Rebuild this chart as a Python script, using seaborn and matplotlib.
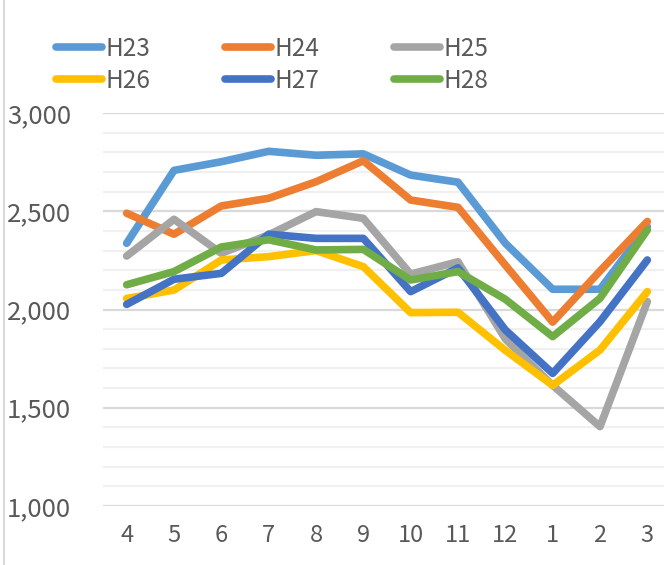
import pandas as pd
import numpy as np
import matplotlib.pyplot as plt
import seaborn as sns
from matplotlib.lines import Line2D
from matplotlib.ticker import MultipleLocator, FuncFormatter

# データ (月別)
months = ["4", "5", "6", "7", "8", "9", "10", "11", "12", "1", "2", "3"]
h23 = [2337, 2708, 2752, 2805, 2785, 2792, 2684, 2648, 2337, 2103, 2103, 2422]
h24 = [2490, 2383, 2527, 2566, 2650, 2757, 2557, 2520, 2226, 1936, 2196, 2448]
h25 = [2272, 2459, 2286, 2380, 2498, 2464, 2180, 2243, 1850, 1614, 1404, 2040]
h26 = [2056, 2099, 2252, 2269, 2300, 2218, 1984, 1986, 1792, 1614, 1794, 2091]
h27 = [2026, 2154, 2184, 2383, 2362, 2362, 2091, 2212, 1896, 1675, 1938, 2252]
h28 = [2126, 2193, 2318, 2355, 2303, 2306, 2150, 2193, 2052, 1862, 2057, 2405]
years = ["H23", "H24", "H25", "H26", "H27", "H28"]
colors = ["#5B9BD5", "#ED7D31", "#A5A5A5", "#FFC000", "#4472C4", "#70AD47"]

series = [h23, h24, h25, h26, h27, h28]
df = pd.concat([
    pd.DataFrame({"pos": np.arange(len(months)), "value": vals, "year": y})
    for y, vals in zip(years, series)
])

sns.set_style("white")
plt.rcParams["font.family"] = ["Noto Sans CJK JP", "DejaVu Sans"]

fig = plt.figure(figsize=(6.64, 5.65), dpi=100)
ax = fig.add_axes([103 / 664, 59 / 565, 568 / 664, 393 / 565])

sns.lineplot(data=df, x="pos", y="value", hue="year", palette=colors,
             linewidth=5.5, sort=False, ax=ax, legend=False)
for ln in ax.get_lines():
    ln.set_solid_capstyle("round")

ax.set_xlim(-0.5, len(months) - 0.5)
ax.set_ylim(1000, 3000)
ax.set_xticks(np.arange(len(months)))
ax.set_xticklabels(months)
ax.yaxis.set_major_locator(MultipleLocator(500))
ax.yaxis.set_minor_locator(MultipleLocator(100))
ax.yaxis.set_major_formatter(FuncFormatter(lambda v, p: f"{int(v):,}"))
ax.grid(which="minor", axis="y", color="#f0f0f0", linewidth=1.6, zorder=0)
ax.grid(which="major", axis="y", color="#d9d9d9", linewidth=1.6, zorder=0)
ax.set_axisbelow(True)
ax.tick_params(axis="both", which="both", length=0, labelcolor="#595959")
ax.tick_params(axis="y", labelsize=18.5, pad=23)
ax.tick_params(axis="x", labelsize=17, pad=13)
ax.set_xlabel("")
ax.set_ylabel("")
for s in ax.spines.values():
    s.set_visible(False)

# 凡例は行方向に並べる (H23 H24 H25 / H26 H27 H28)
order = [0, 3, 1, 4, 2, 5]
handles = [Line2D([], [], color=colors[i], linewidth=5.5, solid_capstyle="round") for i in order]
labels = [years[i] for i in order]
fig.legend(handles, labels, loc="upper left", bbox_to_anchor=(34 / 664, 1 - 14 / 565),
           ncol=3, frameon=False, fontsize=17.5, handlelength=1.9, handletextpad=0.15,
           columnspacing=3.05, labelspacing=0.25, labelcolor="#595959")

fig.add_artist(Line2D([4 / 664, 4 / 664], [0, 1], color="#d9d9d9", linewidth=1.5))

plt.savefig("out.png", dpi=100)
